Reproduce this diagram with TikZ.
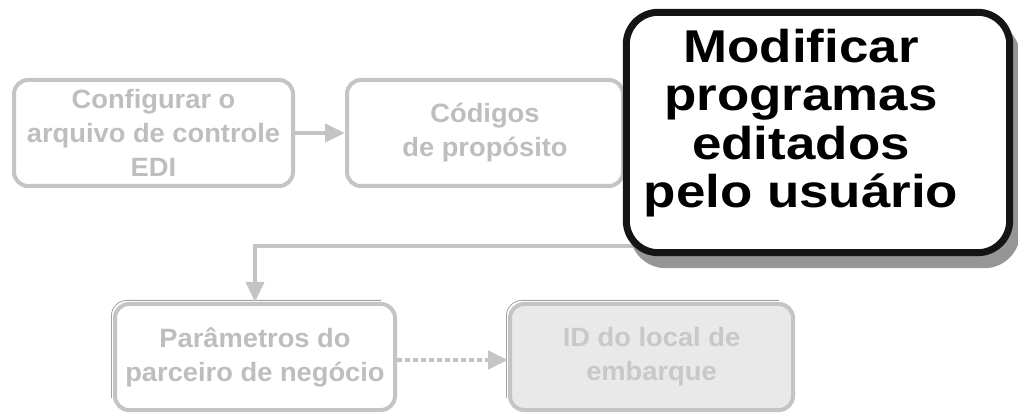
\documentclass[tikz,border=0pt]{standalone}
\usepackage{fontspec}
\setmainfont{Liberation Sans}
\newfontfamily\smallboxfont[FakeStretch=1.03]{Liberation Sans}
\newfontfamily\bigboxfont[FakeStretch=1.15]{Liberation Sans}
\usetikzlibrary{arrows.meta,calc}
\definecolor{boxgray}{HTML}{C4C4C4}
\definecolor{txtgray}{HTML}{BEBEBE}
\definecolor{lighttxt}{HTML}{C8C8C8}
\definecolor{fillgray}{HTML}{E9E9E9}
\definecolor{edgegray}{HTML}{A2A2A2}
\definecolor{shadowgray}{HTML}{969696}
\definecolor{inkblack}{HTML}{151515}
\tikzset{
  stepbox/.style={draw=boxgray, line width=4pt, rounded corners=14pt, fill=white,
    minimum width=279pt, minimum height=106pt, inner sep=0pt, align=center,
    text=txtgray, font=\smallboxfont\bfseries\fontsize{26.5}{34}\selectfont},
  flowline/.style={draw=boxgray, line width=4pt},
  flowtip/.style={-{Triangle[length=20pt,width=18pt]}, boxgray},
  edgeline/.style={draw=edgegray, line width=0.8pt, rounded corners=15.5pt},
}
\begin{document}
\begin{tikzpicture}[x=1pt,y=-1pt]
\useasboundingbox (0,0) rectangle (1018,414);
% boxes
\node[stepbox] (b1) at (153.5,133) {Configurar o\\arquivo de controle\\EDI};
\node[stepbox, minimum width=276pt] (b2) at (485,133) {Códigos\\de propósito};
\node[stepbox, minimum width=280pt] (b3) at (255,357) {Parâmetros do\\parceiro de negócio};
\node[stepbox, minimum width=283pt, fill=fillgray, text=lighttxt] (b4) at (651.5,357) {ID do local de\\embarque};
% darker top-left edges of lower boxes
\draw[edgeline] ($(b3.south west)+(-1.6,-14)$) -- ($(b3.north west)+(-1.6,-1.6)$) -- ($(b3.north east)+(-16,-1.6)$);
\draw[edgeline] ($(b4.south west)+(-1.6,-14)$) -- ($(b4.north west)+(-1.6,-1.6)$) -- ($(b4.north east)+(-16,-1.6)$);
% connectors
\draw[flowline, flowtip] (b1.east) -- (b2.west);
\coordinate (loopstart) at (720,246);
\draw[flowline, flowtip] (loopstart) -| (b3.north);
\draw[flowline, flowtip, dash pattern=on 5pt off 3pt] ([yshift=-3pt]b3.east) -- ([yshift=-3pt]b4.west);
% highlighted box
\node[draw=none, minimum width=383pt, minimum height=240pt, inner sep=0pt] (big) at (818,132.5) {};
\fill[shadowgray, rounded corners=36pt] ($(big.south west)+(3.5,15.5)$) rectangle ($(big.north east)+(10.5,8.5)$);
\draw[inkblack, line width=7pt, rounded corners=32pt, fill=white] (big.south west) rectangle (big.north east);
\node[inner sep=0pt, align=center, text=black, font=\bigboxfont\bfseries\fontsize{46}{48.5}\selectfont] (bigtext) at (801,123) {Modificar\\programas\\editados\\pelo usuário};
\end{tikzpicture}
\end{document}
